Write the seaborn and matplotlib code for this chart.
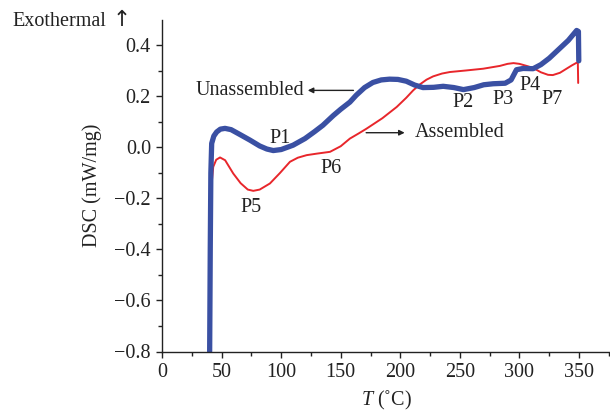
import numpy as np
import pandas as pd
import matplotlib
matplotlib.use("Agg")
import matplotlib.pyplot as plt
import seaborn as sns

# Unassembled sample (thick blue)
t_unassembled = [40.0, 40.5, 41.0, 41.7, 43.5, 45.9, 49, 52.9, 58, 65, 73.8, 82, 88, 93.4,
                 100, 110, 120, 128, 135, 143.7, 150, 157.7, 163, 170, 177, 184, 191, 198,
                 205, 212, 219, 228, 236, 245, 253, 262, 270, 278, 288, 293, 297.5, 303,
                 311.5, 318, 325, 333, 341, 348, 349.5, 349.8]
dsc_unassembled = [-0.80, -0.40, -0.10, 0.016, 0.045, 0.061, 0.072, 0.075, 0.070, 0.052, 0.029,
                   0.006, -0.006, -0.012, -0.008, 0.009, 0.035, 0.062, 0.087, 0.125, 0.150,
                   0.178, 0.205, 0.235, 0.255, 0.265, 0.268, 0.267, 0.260, 0.245, 0.235, 0.236,
                   0.240, 0.235, 0.227, 0.235, 0.246, 0.250, 0.252, 0.265, 0.305, 0.310, 0.309,
                   0.325, 0.350, 0.385, 0.420, 0.459, 0.455, 0.34]

# Assembled sample (thin red)
t_assembled = [40.0, 40.5, 41.5, 43, 45.5, 48.7, 53, 59.8, 66, 72, 76.6, 82, 90.6, 99, 107.4,
               114, 121.4, 130, 141, 150, 157.7, 165, 171.7, 185, 197, 205, 210.8, 216, 222,
               227.6, 235, 241.6, 255, 269.6, 283.6, 290, 295, 300, 306, 311.5, 318, 324, 328,
               334, 339.5, 344, 349, 349.3]
dsc_assembled = [-0.80, -0.40, -0.15, -0.076, -0.048, -0.039, -0.050, -0.102, -0.140, -0.165,
                 -0.170, -0.165, -0.141, -0.100, -0.056, -0.040, -0.030, -0.024, -0.017, 0.005,
                 0.035, 0.055, 0.074, 0.115, 0.159, 0.195, 0.224, 0.246, 0.266, 0.279, 0.290,
                 0.296, 0.302, 0.309, 0.320, 0.328, 0.331, 0.328, 0.320, 0.312, 0.295, 0.285,
                 0.284, 0.293, 0.309, 0.322, 0.335, 0.253]

peak_labels = ["P1", "P2", "P3", "P4", "P5", "P6", "P7"]
peak_t = [99, 253, 286, 308.7, 75, 142, 327.7]
peak_dsc = [0.035, 0.175, 0.188, 0.244, -0.235, -0.082, 0.19]

y_ticks = [-0.8, -0.6, -0.4, -0.2, 0.0, 0.2, 0.4]
y_ticklabels = ["\u22120.8", "\u22120.6", "\u22120.4", "\u22120.2", "0.0", "0.2", "0.4"]

df_u = pd.DataFrame({"T": t_unassembled, "DSC": dsc_unassembled})
df_a = pd.DataFrame({"T": t_assembled, "DSC": dsc_assembled})

sns.set_style("ticks")
serif = ["Liberation Serif", "DejaVu Serif"]
plt.rcParams["font.family"] = serif
plt.rcParams["mathtext.fontset"] = "custom"
plt.rcParams["mathtext.it"] = "Liberation Serif:italic"
plt.rcParams["mathtext.rm"] = "Liberation Serif"
fs = 14.5
ink = "#222222"

fig = plt.figure(figsize=(6.1, 4.17), dpi=100)
ax = fig.add_axes([162 / 610, 1 - 351.5 / 417, 1 - 162 / 610, (351.5 - 20) / 417])

sns.lineplot(data=df_a, x="T", y="DSC", sort=False, estimator=None,
             color="#e8262b", linewidth=1.4, ax=ax)
sns.lineplot(data=df_u, x="T", y="DSC", sort=False, estimator=None,
             color="#3a50a3", linewidth=3.8, ax=ax)

ax.set_xlim(0, 376)
ax.set_ylim(-0.8, 0.5)
ax.set_xticks(np.arange(0, 351, 50))
ax.set_xticks(np.arange(25, 376, 50), minor=True)
ax.set_yticks(y_ticks)
ax.set_yticklabels(y_ticklabels)
ax.set_yticks(np.arange(-0.7, 0.5, 0.2), minor=True)
ax.tick_params(which="major", direction="out", length=4.5, width=1, labelsize=fs, colors=ink)
ax.tick_params(which="minor", direction="out", length=2.8, width=1, colors=ink)
for s in ["top", "right"]:
    ax.spines[s].set_visible(False)
for s in ["left", "bottom"]:
    ax.spines[s].set_color(ink)
    ax.spines[s].set_linewidth(1)

ax.set_xlabel(r"$T$ (˚C)", fontsize=fs, labelpad=5, color=ink)
ax.set_ylabel("DSC (mW/mg)", fontsize=fs, labelpad=9, color=ink)

for lab, tx, ty in zip(peak_labels, peak_t, peak_dsc):
    ax.text(tx, ty, lab, fontsize=fs, ha="center", va="center", color=ink)

ax.text(119, 0.222, "Unassembled", fontsize=fs, ha="right", va="center", color=ink)
ax.annotate("", xy=(120, 0.224), xytext=(163, 0.224),
            arrowprops=dict(arrowstyle="-|>", color=ink, lw=1, mutation_scale=8))
ax.text(212, 0.057, "Assembled", fontsize=fs, ha="left", va="center", color=ink)
ax.annotate("", xy=(206, 0.058), xytext=(169, 0.058),
            arrowprops=dict(arrowstyle="-|>", color=ink, lw=1, mutation_scale=8))

fig.text(12 / 610, 1 - 21.5 / 417, "Exothermal", fontsize=fs, ha="left", va="center",
         color=ink, family=serif)
fig.text(113 / 610, 1 - 20 / 417, "\u2191", fontsize=fs + 1, ha="left", va="center",
         color=ink, family=["DejaVu Sans"])

fig.savefig("out.png", dpi=100)
